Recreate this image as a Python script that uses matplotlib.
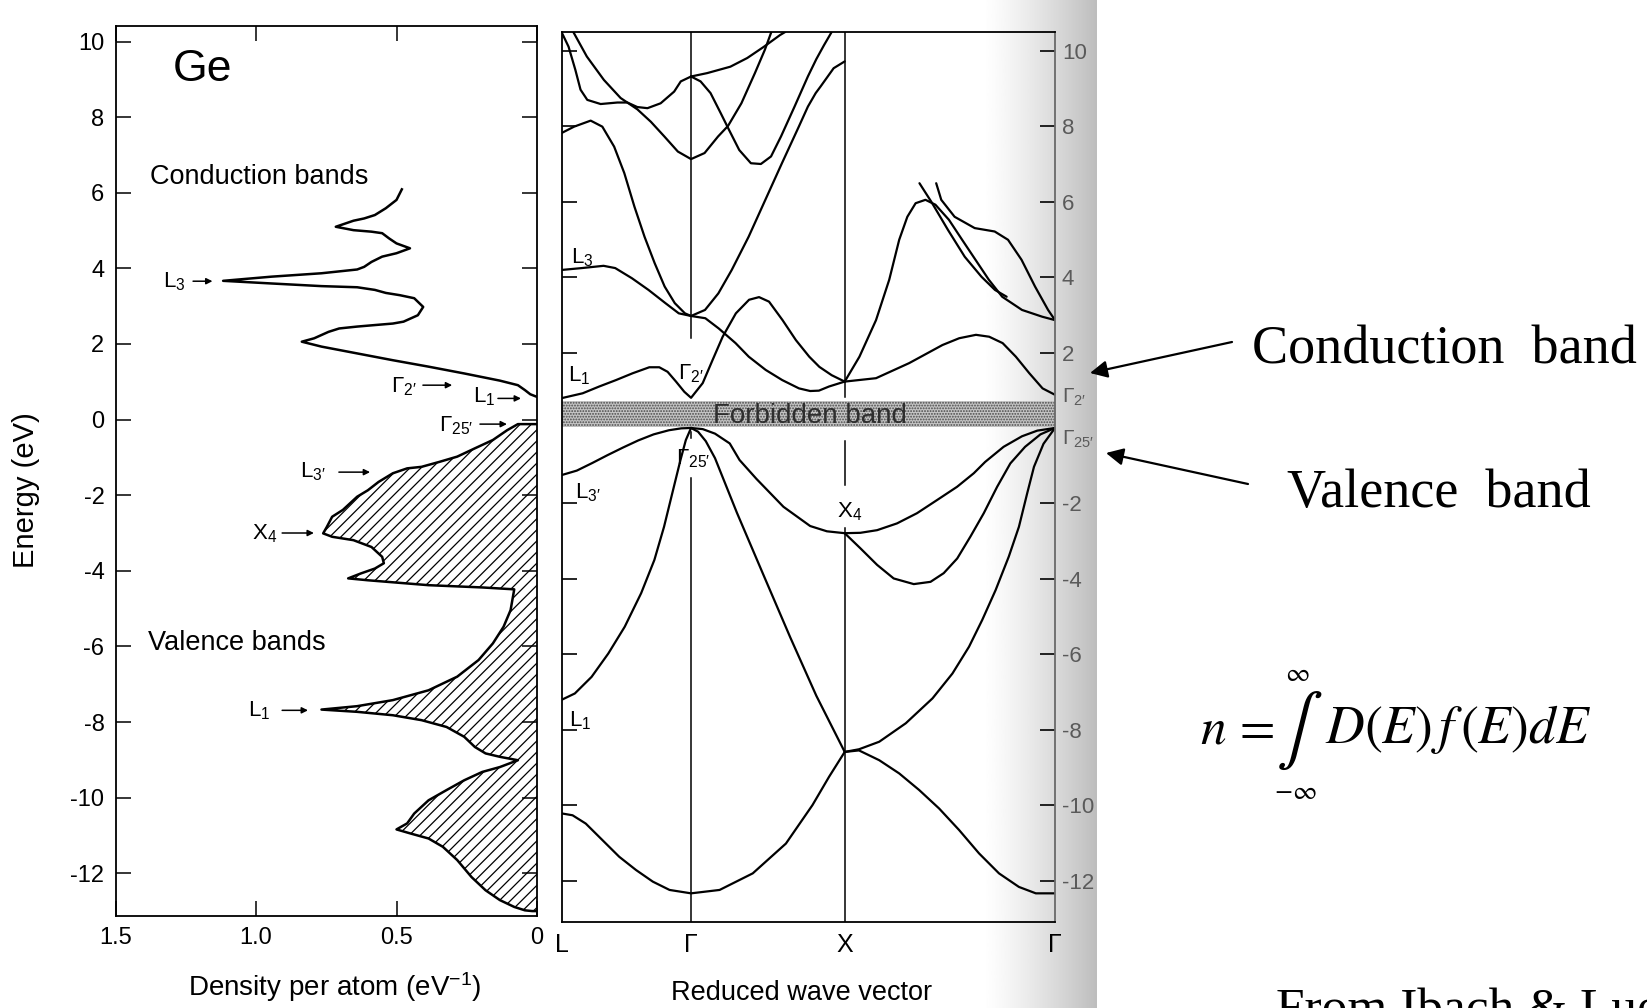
import numpy as np
import matplotlib
matplotlib.use("Agg")
import matplotlib.pyplot as plt
from matplotlib.patches import FancyArrowPatch
from matplotlib.transforms import blended_transform_factory

# ---------------- density of states (states / eV / atom) ----------------
dos_cond_D = [0.481, 0.500, 0.538, 0.577, 0.615, 0.653, 0.716, 0.653, 0.589, 0.551,
              0.526, 0.500, 0.452, 0.500, 0.551, 0.589, 0.615, 0.640, 0.767, 0.945,
              1.117, 0.945, 0.767, 0.640, 0.577, 0.538, 0.488, 0.437, 0.405, 0.424,
              0.475, 0.513, 0.577, 0.640, 0.704, 0.742, 0.793, 0.837, 0.767, 0.640,
              0.513, 0.386, 0.259, 0.132, 0.068, 0.043, 0.024, 0.0]
dos_cond_E = [6.09, 5.81, 5.59, 5.41, 5.32, 5.26, 5.10, 5.01, 4.97, 4.93,
              4.79, 4.66, 4.53, 4.40, 4.31, 4.17, 4.04, 3.97, 3.87, 3.78,
              3.67, 3.60, 3.53, 3.50, 3.43, 3.35, 3.29, 3.21, 2.98, 2.76,
              2.59, 2.54, 2.50, 2.46, 2.41, 2.32, 2.15, 2.06, 1.93, 1.75,
              1.57, 1.40, 1.22, 1.03, 0.91, 0.78, 0.67, 0.60]

dos_val_D = [0.0, 0.068, 0.106, 0.157, 0.221, 0.284, 0.348, 0.411, 0.462, 0.513,
             0.564, 0.602, 0.640, 0.691, 0.729, 0.748, 0.761, 0.729, 0.653, 0.589,
             0.551, 0.545, 0.577, 0.627, 0.672, 0.602, 0.386, 0.195, 0.081, 0.094,
             0.119, 0.157, 0.208, 0.284, 0.386, 0.513, 0.640, 0.767, 0.640, 0.513,
             0.411, 0.322, 0.259, 0.221, 0.183, 0.132, 0.068, 0.132, 0.195, 0.259,
             0.322, 0.386, 0.437, 0.462, 0.500, 0.449, 0.386, 0.335, 0.284, 0.233,
             0.183, 0.132, 0.081, 0.043, 0.017, 0.0]
dos_val_E = [-0.12, -0.12, -0.28, -0.54, -0.76, -0.98, -1.12, -1.25, -1.29, -1.42,
             -1.65, -1.87, -2.04, -2.39, -2.57, -2.84, -3.01, -3.10, -3.19, -3.37,
             -3.63, -3.80, -3.94, -4.07, -4.20, -4.25, -4.38, -4.44, -4.49, -5.04,
             -5.48, -5.92, -6.36, -6.80, -7.16, -7.42, -7.58, -7.67, -7.73, -7.82,
             -7.95, -8.13, -8.39, -8.66, -8.83, -8.92, -9.01, -9.19, -9.32, -9.54,
             -9.80, -10.07, -10.42, -10.68, -10.84, -10.95, -11.08, -11.30, -11.65, -12.10,
             -12.45, -12.71, -12.89, -12.98, -13.00, -13.00]

dos_xticks = [1.5, 1.0, 0.5, 0.0]
dos_xticklabels = ["1.5", "1.0", "0.5", "0"]
energy_ticks = [-12, -10, -8, -6, -4, -2, 0, 2, 4, 6, 8, 10]

# DOS critical point labels: text, label (D, E), arrow tail D, arrow head D, arrow E
dos_marks = [
    (r"$\mathrm{L}_3$", 1.292, 3.65, 1.224, 1.155, 3.66),
    (r"$\Gamma_{2\prime}$", 0.473, 0.87, 0.406, 0.302, 0.91),
    (r"$\mathrm{L}_1$", 0.189, 0.60, 0.139, 0.057, 0.56),
    (r"$\Gamma_{25\prime}$", 0.288, -0.15, 0.203, 0.107, -0.12),
    (r"$\mathrm{L}_{3\prime}$", 0.797, -1.38, 0.705, 0.594, -1.39),
    (r"$\mathrm{X}_4$", 0.968, -3.01, 0.907, 0.794, -3.00),
    (r"$\mathrm{L}_1$", 0.989, -7.69, 0.907, 0.815, -7.69),
]

# ---------------- band structure E(k) ----------------
k_sym = [0.0, 0.844, 1.845, 3.215]
k_names = ["L", "Γ", "X", "Γ"]

cond_1 = [(0.0, 0.79), (0.138, 0.92), (0.246, 1.10), (0.355, 1.27), (0.463, 1.45),
          (0.572, 1.61), (0.637, 1.61), (0.691, 1.49), (0.746, 1.23), (0.80, 0.96),
          (0.844, 0.80), (0.92, 1.19), (0.984, 1.80), (1.05, 2.42), (1.136, 3.04),
          (1.222, 3.40), (1.287, 3.47), (1.352, 3.35), (1.44, 2.86), (1.527, 2.33),
          (1.614, 1.89), (1.68, 1.62), (1.76, 1.40), (1.845, 1.23)]
cond_1x = [(1.845, 1.23), (2.049, 1.32), (2.265, 1.72), (2.482, 2.20), (2.591, 2.38),
           (2.70, 2.47), (2.786, 2.42), (2.874, 2.25), (2.96, 1.89), (3.048, 1.45),
           (3.134, 1.05), (3.215, 0.88)]
cond_2 = [(0.0, 4.19), (0.132, 4.24), (0.274, 4.30), (0.35, 4.24), (0.459, 3.97),
          (0.567, 3.66), (0.677, 3.31), (0.764, 3.04), (0.844, 2.97), (0.937, 2.91),
          (1.024, 2.64), (1.134, 2.25), (1.22, 1.89), (1.33, 1.54), (1.438, 1.27),
          (1.547, 1.05), (1.62, 0.98), (1.677, 0.99), (1.743, 1.10), (1.845, 1.23)]
cond_2x = [(1.845, 1.23), (1.941, 1.89), (2.049, 2.86), (2.135, 3.93), (2.2, 4.99),
           (2.253, 5.60), (2.307, 5.96), (2.371, 6.05), (2.436, 5.92), (2.524, 5.52),
           (2.61, 4.99), (2.697, 4.46), (2.784, 3.93), (2.871, 3.48), (3.0, 3.13),
           (3.132, 2.95), (3.215, 2.86)]
cond_a = [(2.332, 6.49), (2.409, 6.00), (2.518, 5.25), (2.627, 4.54), (2.736, 4.01),
          (2.824, 3.66), (2.9, 3.48)]
cond_b = [(2.441, 6.49), (2.474, 6.05), (2.561, 5.60), (2.692, 5.30), (2.822, 5.21),
          (2.909, 4.99), (2.997, 4.46), (3.085, 3.75), (3.17, 3.13), (3.215, 2.86)]
cond_3 = [(0.0, 7.82), (0.082, 7.99), (0.19, 8.15), (0.266, 7.99), (0.343, 7.46),
          (0.409, 6.76), (0.475, 5.87), (0.541, 5.07), (0.607, 4.37), (0.672, 3.75),
          (0.738, 3.31), (0.804, 3.04), (0.844, 2.97), (0.935, 3.13), (1.022, 3.57),
          (1.109, 4.19), (1.219, 5.07), (1.328, 6.05), (1.436, 7.02), (1.546, 7.99),
          (1.605, 8.52), (1.656, 8.88), (1.687, 9.05), (1.773, 9.54), (1.845, 9.72)]
cond_4 = [(0.077, 10.5), (0.165, 9.85), (0.276, 9.23), (0.385, 8.75), (0.494, 8.45),
          (0.582, 8.12), (0.67, 7.73), (0.758, 7.33), (0.844, 7.13), (0.932, 7.29),
          (1.02, 7.73), (1.085, 8.01), (1.172, 8.61), (1.26, 9.41), (1.325, 10.03),
          (1.367, 10.5)]
cond_5 = [(0.0, 10.5), (0.046, 10.11), (0.09, 9.50), (0.124, 8.97), (0.168, 8.70),
          (0.255, 8.59), (0.364, 8.63), (0.429, 8.63), (0.494, 8.51), (0.56, 8.48),
          (0.646, 8.61), (0.734, 8.92), (0.777, 9.19), (0.844, 9.32)]
cond_5a = [(0.844, 9.32), (0.949, 9.41), (1.10, 9.58), (1.21, 9.81), (1.319, 10.11),
           (1.424, 10.42), (1.457, 10.5)]
cond_5b = [(0.844, 9.32), (0.906, 9.19), (0.971, 8.88), (1.037, 8.35), (1.092, 7.90),
           (1.158, 7.37), (1.234, 7.02), (1.299, 7.00), (1.365, 7.20), (1.43, 7.73),
           (1.518, 8.52), (1.605, 9.32), (1.66, 9.78), (1.71, 10.15), (1.76, 10.5)]

val_L3 = [(0.0, -1.25), (0.1, -1.13), (0.2, -0.93), (0.3, -0.72), (0.4, -0.52),
          (0.5, -0.33), (0.6, -0.17), (0.7, -0.06), (0.78, -0.01), (0.844, 0.0)]
val_L1 = [(0.0, -7.21), (0.087, -7.04), (0.196, -6.60), (0.305, -5.98), (0.412, -5.27),
          (0.519, -4.38), (0.605, -3.50), (0.668, -2.62), (0.732, -1.56), (0.775, -0.85),
          (0.81, -0.32), (0.844, 0.0)]
val_X4 = [(0.844, 0.0), (0.92, -0.03), (1.0, -0.15), (1.096, -0.41), (1.16, -0.85),
          (1.27, -1.35), (1.446, -2.09), (1.62, -2.6), (1.729, -2.74), (1.845, -2.79)]
val_line = [(0.844, 0.0), (0.89, -0.1), (0.94, -0.35), (1.0, -0.8), (1.143, -2.25),
            (1.316, -3.9), (1.49, -5.55), (1.66, -7.1), (1.845, -8.59)]
val_bottom = [(0.0, -10.22), (0.072, -10.27), (0.158, -10.49), (0.267, -10.93),
              (0.376, -11.37), (0.485, -11.72), (0.595, -12.03), (0.704, -12.25),
              (0.844, -12.34), (1.03, -12.25), (1.246, -11.81), (1.462, -11.02),
              (1.635, -10.0), (1.743, -9.25), (1.845, -8.59)]
val_xa = [(1.845, -2.79), (1.947, -2.78), (2.056, -2.71), (2.186, -2.53), (2.316, -2.26),
          (2.447, -1.91), (2.577, -1.56), (2.686, -1.20), (2.76, -0.9), (2.88, -0.5),
          (3.0, -0.22), (3.1, -0.07), (3.215, 0.0)]
val_xb = [(1.845, -2.79), (1.947, -3.19), (2.056, -3.63), (2.164, -3.99), (2.295, -4.14),
          (2.404, -4.08), (2.49, -3.85), (2.578, -3.46), (2.664, -2.88), (2.751, -2.26),
          (2.838, -1.56), (2.924, -0.94), (3.02, -0.5), (3.12, -0.17), (3.215, 0.0)]
val_xc = [(1.845, -8.59), (1.938, -8.52), (2.07, -8.32), (2.243, -7.83), (2.417, -7.17),
          (2.547, -6.51), (2.655, -5.80), (2.741, -5.09), (2.828, -4.30), (2.914, -3.41),
          (2.98, -2.62), (3.034, -1.73), (3.078, -1.03), (3.14, -0.42), (3.215, 0.0)]
val_xd = [(1.845, -8.59), (1.938, -8.55), (2.07, -8.81), (2.2, -9.16), (2.33, -9.60),
          (2.46, -10.09), (2.59, -10.66), (2.72, -11.28), (2.85, -11.81), (2.98, -12.17),
          (3.09, -12.34), (3.215, -12.34)]

bands = [cond_1, cond_1x, cond_2, cond_2x, cond_a, cond_b, cond_3, cond_4, cond_5,
         cond_5a, cond_5b, val_L3, val_L1, val_X4, val_line, val_bottom,
         val_xa, val_xb, val_xc, val_xd]

gap_bottom, gap_top = 0.03, 0.72
# visible pieces of the vertical guide lines (E ranges)
gamma_pieces = [(2.39, 10.5), (-0.27, -0.10), (-13.1, -1.33)]
x_pieces = [(0.83, 10.5), (-1.51, -0.35), (-13.1, -2.65)]

# band labels: text, k, E, alignment
band_marks = [
    (r"$\mathrm{L}_3$", 0.065, 4.51, "left"),
    (r"$\mathrm{L}_1$", 0.045, 1.38, "left"),
    (r"$\mathrm{L}_{3\prime}$", 0.09, -1.72, "left"),
    (r"$\mathrm{L}_1$", 0.05, -7.75, "left"),
    (r"$\Gamma_{2\prime}$", 0.844, 1.43, "center"),
    (r"$\Gamma_{25\prime}$", 0.86, -0.82, "center"),
    (r"$\mathrm{X}_4$", 1.875, -2.23, "center"),
]
band_ticks = [-12, -10, -8, -6, -4, -2, 2, 4, 6, 8, 10]

# ---------------- figure ----------------
W, H = 1647, 1008


def fx(px):
    return px / W


def fy(py):
    return 1 - py / H


plt.rcParams['font.family'] = ['Liberation Sans', 'DejaVu Sans']
plt.rcParams['mathtext.fontset'] = 'custom'
plt.rcParams['mathtext.rm'] = 'Liberation Sans'
plt.rcParams['mathtext.it'] = 'Liberation Sans:italic'
plt.rcParams['mathtext.bf'] = 'Liberation Sans:bold'
plt.rcParams['axes.unicode_minus'] = False
plt.rcParams['hatch.linewidth'] = 0.9

fig = plt.figure(figsize=(W / 100, H / 100), dpi=100)
fig.patch.set_facecolor('white')

# book gutter shading
ax_g = fig.add_axes([fx(982), 0, (1096 - 982) / W, 1], zorder=-1)
t = np.linspace(0, 1, 300)
ax_g.imshow((1 - 0.26 * t ** 1.3)[None, :], aspect='auto', cmap='gray',
            vmin=0, vmax=1, extent=[0, 1, 0, 1])
ax_g.axis('off')

# ---- left: density of states ----
ax1 = fig.add_axes([fx(115.5), fy(916), (537 - 115.5) / W, 890 / H])
ax1.plot(dos_cond_D, dos_cond_E, color='black', lw=1.8)
ax1.fill_betweenx(dos_val_E, 0, dos_val_D, facecolor='white', edgecolor='black',
                  hatch='///', linewidth=0)
ax1.plot(dos_val_D, dos_val_E, color='black', lw=1.8)
ax1.set_xlim(1.5, 0)
ax1.set_ylim(-13.13, 10.41)
ax1.set_xticks(dos_xticks)
ax1.set_xticklabels(dos_xticklabels)
ax1.set_yticks(energy_ticks)
ax1.tick_params(direction='in', top=True, right=True, length=11, width=1.1,
                labelsize=17, pad=8)
for s in ax1.spines.values():
    s.set_linewidth(1.3)

ax1.text(1.192, 9.25, "Ge", fontsize=32, ha='center', va='center')
ax1.text(1.377, 6.42, "Conduction bands", fontsize=19.5, ha='left', va='center')
ax1.text(1.384, -5.91, "Valence bands", fontsize=19.5, ha='left', va='center')
for lab, dx, ex, d0, d1, ea in dos_marks:
    ax1.text(dx, ex, lab, fontsize=16, ha='center', va='center')
    ax1.annotate("", xy=(d1, ea), xytext=(d0, ea),
                 arrowprops=dict(arrowstyle='-|>', color='black', lw=1.1,
                                 mutation_scale=9, shrinkA=0, shrinkB=0))

# ---- right: band structure ----
ax2 = fig.add_axes([fx(561.5), fy(922), (1055 - 561.5) / W, 890 / H])
ax2.patch.set_visible(False)
ax2.fill_between([k_sym[0], k_sym[-1]], gap_bottom, gap_top, facecolor='#c4c4c4',
                 edgecolor='#4a4a4a', hatch='......', linewidth=0)
for b in bands:
    kk, ee = np.array(b).T
    ax2.plot(kk, ee, color='black', lw=1.6, solid_capstyle='round',
             solid_joinstyle='round')
for lo, hi in gamma_pieces:
    ax2.plot([k_sym[1], k_sym[1]], [lo, hi], color='black', lw=1.1)
for lo, hi in x_pieces:
    ax2.plot([k_sym[2], k_sym[2]], [lo, hi], color='black', lw=1.1)

ax2.set_xlim(k_sym[0], k_sym[-1])
ax2.set_ylim(-13.10, 10.50)
ax2.set_xticks(k_sym)
ax2.set_xticklabels(k_names)
ax2.set_yticks(band_ticks)
ax2.tick_params(axis='x', length=0, labelsize=18, pad=8)
ax2.tick_params(axis='y', direction='in', left=True, right=True, labelleft=False,
                labelright=True, length=11, width=1.2, labelsize=16, pad=5,
                labelcolor='#5a5a5a')
for s in ax2.spines.values():
    s.set_linewidth(1.3)
ax2.spines['right'].set_color('#6a6a6a')

ax2.text(1.62, 0.33, "Forbidden band", fontsize=20, color='#2e2e2e',
         ha='center', va='center')
for lab, kx, ey, ha in band_marks:
    ax2.text(kx, ey, lab, fontsize=16, ha=ha, va='center')
tr = blended_transform_factory(ax2.transAxes, ax2.transData)
ax2.text(1.014, 0.8, r"$\Gamma_{2\prime}$", transform=tr, fontsize=15,
         color='#5a5a5a', ha='left', va='center')
ax2.text(1.014, -0.3, r"$\Gamma_{25\prime}$", transform=tr, fontsize=15,
         color='#5a5a5a', ha='left', va='center')

# ---- axis titles ----
fig.text(fx(26), fy(490), "Energy (eV)", rotation=90, fontsize=21,
         ha='center', va='center')
fig.text(fx(335), fy(987), r"Density per atom (eV$^{-1}$)", fontsize=20,
         ha='center', va='center')
fig.text(fx(802), fy(993), "Reduced wave vector", fontsize=19.5,
         ha='center', va='center')

# ---- slide annotations ----
serif = ['Liberation Serif', 'DejaVu Serif']
fig.text(fx(1252), fy(363), "Conduction  band", fontsize=39, family=serif,
         va='baseline', ha='left')
fig.text(fx(1287), fy(507), "Valence  band", fontsize=39, family=serif,
         va='baseline', ha='left')
for (x0, y0), (x1, y1) in [((1232, 342), (1090, 373)), ((1248, 484), (1106, 453))]:
    fig.add_artist(FancyArrowPatch((fx(x0), fy(y0)), (fx(x1), fy(y1)),
                                   transform=fig.transFigure, arrowstyle='-|>',
                                   mutation_scale=26, lw=1.6, color='black',
                                   shrinkA=0, shrinkB=0))

fig.text(fx(1200), fy(743), r"$n\,=$", fontsize=37, math_fontfamily='stix',
         va='baseline', ha='left')
fig.text(fx(1299), fy(731), r"$\int$", fontsize=50, math_fontfamily='stix',
         va='center', ha='center')
fig.text(fx(1297), fy(674), r"$\infty$", fontsize=19, math_fontfamily='stix',
         va='center', ha='center')
fig.text(fx(1295), fy(792), r"$-\infty$", fontsize=19, math_fontfamily='stix',
         va='center', ha='center')
fig.text(fx(1325), fy(743), r"$D(E)\,f\,(E)dE$", fontsize=38.5, math_fontfamily='stix',
         va='baseline', ha='left')
fig.text(fx(1276), fy(1024), "From Ibach & Lueth", fontsize=37, family=serif,
         va='baseline', ha='left')

fig.savefig("out.png", dpi=100)
